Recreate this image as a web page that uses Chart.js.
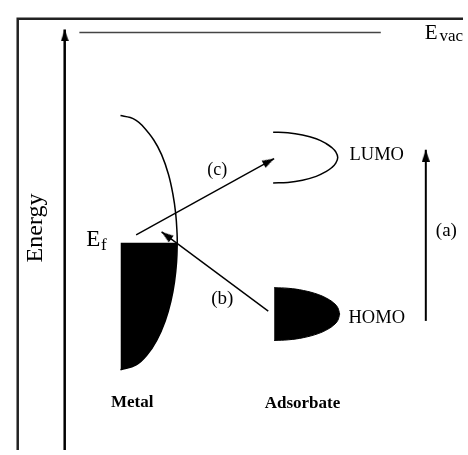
<!DOCTYPE html>
<html>
<head>
<meta charset="utf-8">
<script src="https://cdn.jsdelivr.net/npm/chart.js@4/dist/chart.umd.min.js"></script>
<style>
  html, body { margin: 0; padding: 0; background: #ffffff; }
  #wrap { width: 468px; height: 455px; position: relative; }
</style>
</head>
<body>
<div id="wrap"><canvas id="c" width="468" height="455"></canvas></div>
<script>
// ---- Diagram data (in diagram units) ----
const frameLine      = [[13, 455], [13, 14], [468, 14]];
const energyAxis     = [[61, 455], [61, 25]];
const evacLevel      = [[76, 28], [384, 28]];
const metalOutline   = [[118,113],[128,115],[134,118],[140,123],[152,138],[160,153],[167,173],[171.5,193],[174.4,213],[175.8,233],[176,243],
                        [175.3,263],[173.2,283],[169.5,303],[163.7,323],[155,343],[145,358],[134,368],[118,373]];
const metalFilled    = [[118,373],[134,368],[145,358],[155,343],[163.7,323],[169.5,303],[173.2,283],[175.3,263],[176,243]];
const fermiLevel     = 243;
const homoTop        = [[275,289],[290,289.7],[305,291.9],[320,296],[330,300.6],[336,304.8],[340,309.4],[342,316]];
const homoBottom     = [[275,343],[290,342.3],[305,340.1],[320,336],[330,331.4],[336,327.2],[340,322.6],[342,316]];
const lumoOutline    = [[274,130],[289,130.6],[304,132.9],[318,136.8],[328,141.6],[334,145.8],[338,150.2],[340,156],
                        [338,161.8],[334,166.2],[328,170.4],[318,175.2],[304,179.1],[289,181.4],[274,182]];
const arrowA         = [[430, 323], [430, 148]];
const arrowB         = [[269, 313], [160, 232]];
const arrowC         = [[134, 235], [275, 157]];

const textLabels = [
  { text: 'E',         x: 429, y: 35,  size: 21 },
  { text: 'vac',       x: 444, y: 37,  size: 17 },
  { text: 'E',         x: 83,  y: 246, size: 23 },
  { text: 'f',         x: 98,  y: 250, size: 17 },
  { text: 'LUMO',      x: 352, y: 158, size: 18.5 },
  { text: 'HOMO',      x: 351, y: 325, size: 18.5 },
  { text: '(c)',       x: 217, y: 174, size: 18, align: 'center' },
  { text: '(b)',       x: 222, y: 306, size: 19, align: 'center' },
  { text: '(a)',       x: 451, y: 236, size: 19, align: 'center' },
  { text: 'Metal',     x: 130, y: 411, size: 17, bold: true, align: 'center' },
  { text: 'Adsorbate', x: 304, y: 412, size: 17, bold: true, align: 'center' },
  { text: 'Energy',    x: 38,  y: 228, size: 24, align: 'center', rotate: -90 }
];

const FONT = '"Liberation Serif", "Times New Roman", serif';
const toPts = arr => arr.map(p => ({ x: p[0], y: p[1] }));

// arrowhead image: tip at the image centre, pointing up
function makeHead(w, h) {
  const cv = document.createElement('canvas');
  cv.width = w; cv.height = h * 2;
  const g = cv.getContext('2d');
  g.fillStyle = '#000';
  g.beginPath();
  g.moveTo(w / 2, h);
  g.lineTo(w, h * 2);
  g.lineTo(0, h * 2);
  g.closePath();
  g.fill();
  return cv;
}
const head = makeHead(8, 12);
function rot(seg) {
  const dx = seg[1][0] - seg[0][0], dy = seg[1][1] - seg[0][1];
  return Math.atan2(dy, dx) * 180 / Math.PI + 90;
}

function lineDs(arr, opts) {
  return Object.assign({
    data: toPts(arr), showLine: true, borderColor: '#000', borderWidth: 1.5,
    pointRadius: 0, fill: false, tension: 0, clip: false
  }, opts || {});
}
function arrowDs(seg, width) {
  return lineDs(seg, {
    borderWidth: width, pointRadius: [0, 5], pointStyle: head,
    pointRotation: rot(seg), pointBackgroundColor: '#000', pointBorderWidth: 0
  });
}

const textPlugin = {
  id: 'texts',
  afterDatasetsDraw(chart) {
    const ctx = chart.ctx, xs = chart.scales.x, ys = chart.scales.y;
    ctx.save();
    ctx.fillStyle = '#000';
    ctx.textBaseline = 'alphabetic';
    textLabels.forEach(l => {
      const px = xs.getPixelForValue(l.x), py = ys.getPixelForValue(l.y);
      ctx.font = (l.bold ? 'bold ' : '') + l.size + 'px ' + FONT;
      ctx.textAlign = l.align || 'left';
      if (l.rotate) {
        ctx.save();
        ctx.translate(px, py);
        ctx.rotate(l.rotate * Math.PI / 180);
        ctx.fillText(l.text, 0, 0);
        ctx.restore();
      } else {
        ctx.fillText(l.text, px, py);
      }
    });
    ctx.restore();
  }
};

new Chart(document.getElementById('c'), {
  type: 'scatter',
  data: {
    datasets: [
      lineDs(frameLine, { borderColor: '#222', borderWidth: 2.5 }),
      lineDs(evacLevel, { borderColor: '#444', borderWidth: 1.5 }),
      arrowDs(energyAxis, 2.5),
      lineDs(metalFilled, { borderWidth: 0, tension: 0.4, fill: { value: fermiLevel }, backgroundColor: '#000' }),
      lineDs(metalOutline, { tension: 0.4 }),
      lineDs(homoTop, { tension: 0.4, borderWidth: 1, fill: '+1', backgroundColor: '#000' }),
      lineDs(homoBottom, { tension: 0.4, borderWidth: 1 }),
      lineDs(lumoOutline, { tension: 0.4 }),
      arrowDs(arrowA, 2),
      arrowDs(arrowB, 1.4),
      arrowDs(arrowC, 1.4)
    ]
  },
  plugins: [textPlugin],
  options: {
    responsive: false,
    animation: false,
    events: [],
    layout: { padding: 0 },
    plugins: { legend: { display: false }, tooltip: { enabled: false } },
    scales: {
      x: { type: 'linear', min: 0, max: 468, display: false },
      y: { type: 'linear', min: 0, max: 455, reverse: true, display: false }
    }
  }
});
</script>
</body>
</html>
